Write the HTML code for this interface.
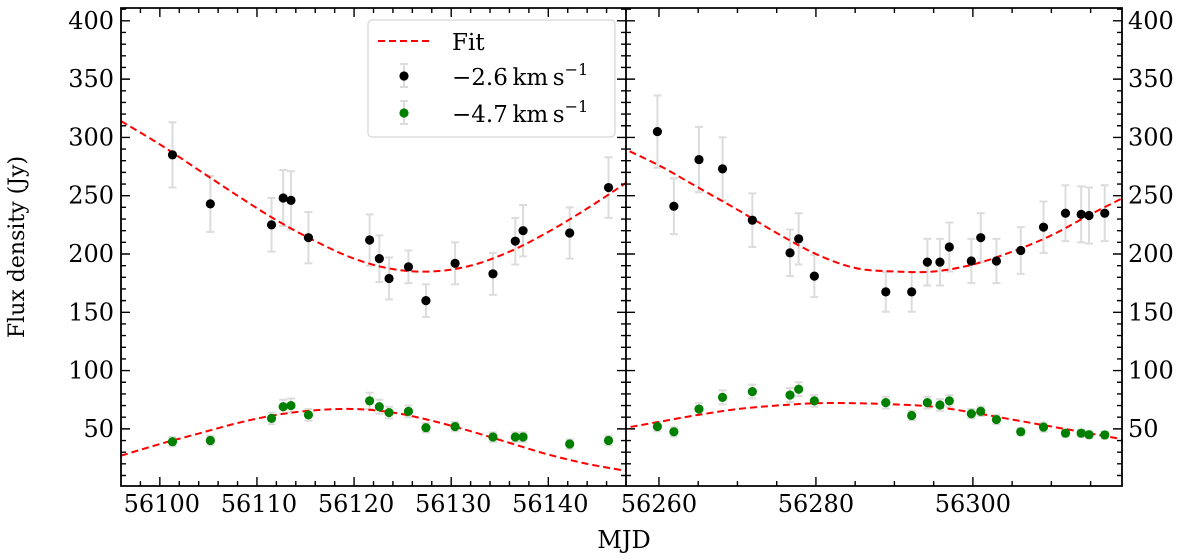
<!DOCTYPE html>
<html><head><meta charset="utf-8"><style>
html,body{margin:0;padding:0;background:#fff;}
svg{display:block;font-family:"DejaVu Serif","Liberation Serif",serif;}
</style></head><body>
<svg id="chart" width="1200" height="560" viewBox="0 0 1200 560" xmlns="http://www.w3.org/2000/svg">
<text x="24" y="247" font-size="22" text-anchor="middle" transform="rotate(-90 24 247)">Flux density (Jy)</text>
<text x="624" y="548" font-size="24" text-anchor="middle">MJD</text>
</svg>
<script>
// Left panel data
const leftMjd = [56101.3,56105.2,56111.5,56112.7,56113.5,56115.3,56121.6,56122.6,56123.6,56125.6,56127.4,56130.4,56134.3,56136.6,56137.4,56142.2,56146.2];
const leftBlack = [285,243,225,248,246,214,212,196,179,189,160,192,183,211,220,218,257];
const leftBlackErr = [28,24,23,24,25,22,22,20,18,14,14,18,18,20,22,22,26];
const leftGreen = [39,40,59,69,70,62,74,69,64,65,51,52,43,43,43,37,40];
const leftGreenErr = [4,4,5,6,6,5,7,6,5,5,4,4,4,4,4,4,4];
const leftFitMjd = [56096,56100,56104,56108,56112,56116,56120,56124,56128,56132,56136,56140,56144,56148];
const leftFitBlack = [314,294,272,250,229,211,196,187,185,190,202,219,239,261];
const leftFitGreen = [27,37,46,55,62,66,67,64,57,48,38,28,20,14];
// Right panel data
const rightMjd = [56259.8,56261.9,56265.1,56268.1,56271.9,56276.7,56277.8,56279.8,56288.9,56292.2,56294.2,56295.8,56297.0,56299.8,56301.0,56303.0,56306.1,56309.0,56311.8,56313.8,56314.8,56316.8];
const rightBlack = [305,241,281,273,229,201,213,181,167.5,167.5,193,193,206,194,214,194,203,223,235,234,233,235];
const rightBlackErr = [31,24,28,27,23,20,22,18,17,17,20,20,21,19,21,19,20,22,24,24,24,24];
const rightGreen = [52,47.5,67,77,82,79,84,74,72.5,61.5,72.5,70.5,74,63,65,58,47.5,51.5,46.3,46.3,45,44.8];
const rightGreenErr = [4,4,5,6,6,6,6,5,5,4,5,5,5,4,4,4,3,4,3,3,3,3];
const rightFitMjd = [56255,56260,56265,56270,56275,56280,56285,56290,56295,56300,56305,56310,56315,56320];
const rightFitBlack = [292,276,257,238,218,200,188,185,185,191,202,216,234,251];
const rightFitGreen = [50,56,62,67,70,72,72,71,69,64,58,52,46,40];
// Axis ticks
const yTicks = [50,100,150,200,250,300,350,400];
const leftXTicks = [56100,56110,56120,56130,56140];
const rightXTicks = [56260,56280,56300];

const svg = document.getElementById('chart');
const NS = 'http://www.w3.org/2000/svg';
const TOP = 8, BOT = 486, YMIN = 1, YMAX = 411;
const L0 = 121, MID = 626, R1 = 1122;
const yS = v => BOT - (v - YMIN) / (YMAX - YMIN) * (BOT - TOP);
const lx = m => L0 + (m - 56096) / (56148 - 56096) * (MID - L0);
const rx = m => MID + (m - 56255.8) / (56319.0 - 56255.8) * (R1 - MID);

function mk(tag, attrs, parent) {
  const e = document.createElementNS(NS, tag);
  for (const k in attrs) e.setAttribute(k, attrs[k]);
  (parent || svg).appendChild(e);
  return e;
}

function clip(id, x0, x1) {
  const cp = mk('clipPath', {id: id});
  mk('rect', {x: x0, y: TOP, width: x1 - x0, height: BOT - TOP}, cp);
}
clip('clipL', L0, MID);
clip('clipR', MID, R1);

function smoothPath(xs, ys) {
  let d = 'M' + xs[0] + ',' + ys[0];
  for (let i = 0; i < xs.length - 1; i++) {
    const x0 = xs[Math.max(i - 1, 0)], y0 = ys[Math.max(i - 1, 0)];
    const x1 = xs[i], y1 = ys[i], x2 = xs[i + 1], y2 = ys[i + 1];
    const x3 = xs[Math.min(i + 2, xs.length - 1)], y3 = ys[Math.min(i + 2, ys.length - 1)];
    d += ' C' + (x1 + (x2 - x0) / 6) + ',' + (y1 + (y2 - y0) / 6) + ' ' + (x2 - (x3 - x1) / 6) + ',' + (y2 - (y3 - y1) / 6) + ' ' + x2 + ',' + y2;
  }
  return d;
}

function panel(name, xf, clipId, mjd, black, bErr, green, gErr, fitM, fitB, fitG) {
  const g = mk('g', {'clip-path': 'url(#' + clipId + ')'});
  
  
  [[black, bErr, 'black'], [green, gErr, 'green']].forEach(([vals, errs, nm]) => {
    vals.forEach((v, i) => {
      const x = xf(mjd[i]), y1 = yS(v - errs[i]), y2 = yS(v + errs[i]);
      const eb = mk('path', {d: 'M' + x + ',' + y1 + 'V' + y2 + 'M' + (x - 4) + ',' + y1 + 'H' + (x + 4) + 'M' + (x - 4) + ',' + y2 + 'H' + (x + 4), stroke: '#dcdcdc', 'stroke-width': 2, fill: 'none'}, g);
      
      
    });
  });
  [[fitB, 'black'], [fitG, 'green']].forEach(([vals, nm]) => {
    const p = mk('path', {d: smoothPath(fitM.map(xf), vals.map(yS)), stroke: '#ff0000', 'stroke-width': 2, fill: 'none', 'stroke-dasharray': '7,4'}, g);
    
    
  });
  [[black, '#000', 'black'], [green, '#008000', 'green']].forEach(([vals, col, nm]) => {
    vals.forEach((v, i) => {
      const c = mk('circle', {cx: xf(mjd[i]), cy: yS(v), r: 4.6, fill: col}, g);
      
      
    });
  });
}
panel('left', lx, 'clipL', leftMjd, leftBlack, leftBlackErr, leftGreen, leftGreenErr, leftFitMjd, leftFitBlack, leftFitGreen);
panel('right', rx, 'clipR', rightMjd, rightBlack, rightBlackErr, rightGreen, rightGreenErr, rightFitMjd, rightFitBlack, rightFitGreen);

// ticks
let td = '';
for (let v = 10; v <= 410; v += 10) {
  const y = yS(v), maj = v % 50 === 0, len = maj ? 9 : 5;
  td += 'M' + L0 + ',' + y + 'h' + len + 'M' + (MID - len) + ',' + y + 'h' + (2 * len) + 'M' + R1 + ',' + y + 'h' + (-len);
}
for (let m = 56098; m <= 56148; m += 2) {
  const x = lx(m), len = m % 10 === 0 ? 9 : 5;
  td += 'M' + x + ',' + BOT + 'v' + (-len) + 'M' + x + ',' + TOP + 'v' + len;
}
for (let m = 56260; m <= 56319; m += 5) {
  const x = rx(m), len = m % 20 === 0 ? 9 : 5;
  td += 'M' + x + ',' + BOT + 'v' + (-len) + 'M' + x + ',' + TOP + 'v' + len;
}
const tk = mk('path', {d: td, stroke: '#000', 'stroke-width': 1.4, fill: 'none'});



const frame = mk('path', {d: 'M' + L0 + ',' + TOP + 'H' + R1 + 'V' + BOT + 'H' + L0 + 'Z M' + MID + ',' + TOP + 'V' + BOT, stroke: '#000', 'stroke-width': 1.8, fill: 'none'});



yTicks.forEach(v => {
  const t1 = mk('text', {x: L0 - 7, y: yS(v) + 8, 'font-size': 24, 'text-anchor': 'end'});
  t1.textContent = v;
  
  
  const t2 = mk('text', {x: R1 + 6, y: yS(v) + 8, 'font-size': 24, 'text-anchor': 'start'});
  t2.textContent = v;
  
  
});
leftXTicks.forEach(m => {
  const t = mk('text', {x: lx(m) + 2, y: 512, 'font-size': 24, 'text-anchor': 'middle'});
  t.textContent = m;
  
  
});
rightXTicks.forEach(m => {
  const t = mk('text', {x: rx(m), y: 512, 'font-size': 24, 'text-anchor': 'middle'});
  t.textContent = m;
  
  
});

// legend
const lg = mk('g', {});


mk('rect', {x: 368, y: 20, width: 247, height: 117, rx: 4, fill: '#fff', 'fill-opacity': 0.9, stroke: '#ccc', 'stroke-width': 1}, lg);
mk('path', {d: 'M378,41H431', stroke: '#ff0000', 'stroke-width': 2, 'stroke-dasharray': '7,4'}, lg);
mk('path', {d: 'M404,64V87M400,64H408M400,87H408', stroke: '#dcdcdc', 'stroke-width': 2}, lg);
mk('circle', {cx: 404, cy: 76, r: 4.6, fill: '#000'}, lg);
mk('path', {d: 'M404,101V124M400,101H408M400,124H408', stroke: '#dcdcdc', 'stroke-width': 2}, lg);
mk('circle', {cx: 404, cy: 113, r: 4.6, fill: '#008000'}, lg);
const lt = [['Fit', 50, 'legend-fit-entry'], ['−2.6\u2009km\u2009s<tspan dy="-10" font-size="16">−1</tspan>', 85, 'legend-black-entry'], ['−4.7\u2009km\u2009s<tspan dy="-10" font-size="16">−1</tspan>', 122, 'legend-green-entry']];
lt.forEach(([txt, y, nm]) => {
  const t = mk('text', {x: 452, y: y, 'font-size': 23}, lg);
  t.innerHTML = txt;
  
  
});
</script>
</body></html>
